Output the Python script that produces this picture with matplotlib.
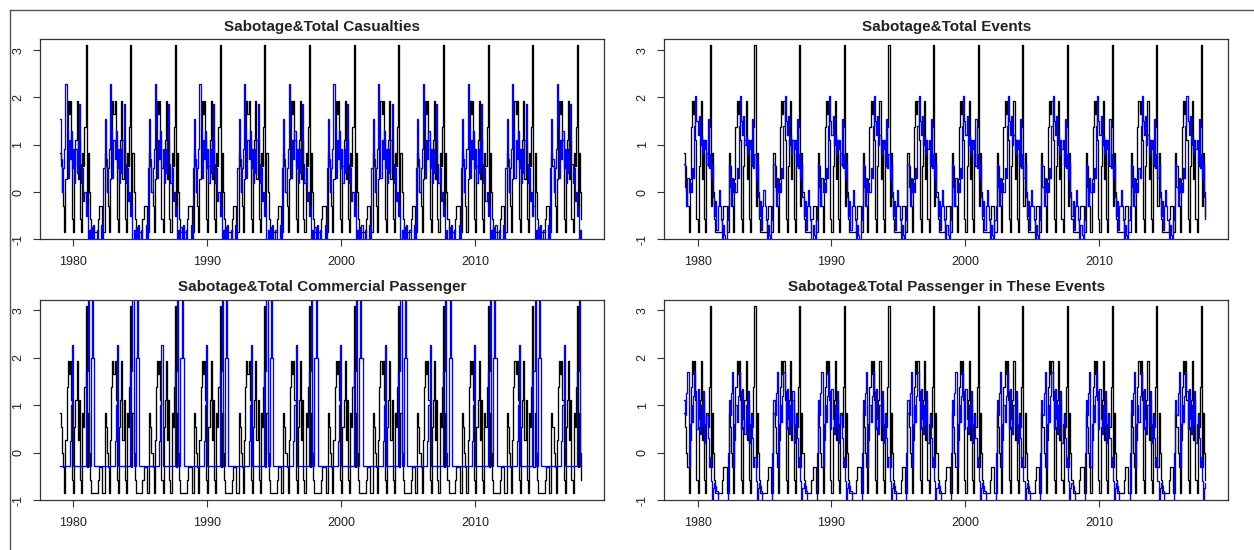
import numpy as np
import matplotlib
matplotlib.use("Agg")
import matplotlib.pyplot as plt
from matplotlib.lines import Line2D

plt.rcParams['font.family'] = ['Liberation Sans', 'DejaVu Sans']

# ---- data (monthly, repeating 40-month pattern) ----
start_year = 1979.0
n_months = 468

titles = ["Sabotage&Total Casualties", "Sabotage&Total Events",
          "Sabotage&Total Commercial Passenger", "Sabotage&Total Passenger in These Events"]

sabotage_cycle = [0.83, 0.55, 0.0, -0.3, -0.85, 0.27, 1.38, 1.93, 1.65, 1.93,
                  1.1, -0.58, -0.85, 0.55, 1.1, 1.93, 0.27, 1.1, -0.58, -0.85,
                  0.83, 0.55, 1.38, 3.1, -0.3, 0.83, 0.0, -0.58, -0.85, -0.85,
                  -0.85, -0.85, -0.85, -0.85, -0.58, -0.3, -0.3, -0.3, -0.85, -0.85]

casualties_cycle = [1.55, 0.7, 0.0, 0.5, 0.9, 2.28, 1.35, 0.3, 1.1, 0.7,
                    1.3, 0.5, 0.9, 0.2, 0.9, 0.4, 1.1, 1.87, 0.6, 0.2,
                    0.5, -0.2, 0.0, -0.5, -0.3, -1.2, -0.8, -1.2, -0.75, -1.2,
                    -0.7, -1.2, -1.0, -0.8, -1.2, -1.1, -1.2, -0.7, -1.2, 0.5]

events_cycle = [0.6, 0.1, -0.3, 0.3, 0.0, 0.2, 0.0, 0.5, 0.3, 1.4,
                2.03, 1.5, 1.2, 1.6, 1.0, 1.2, 0.8, 1.1, 0.9, 1.1,
                0.6, 1.55, 0.5, 0.8, 0.3, 0.6, -0.1, -0.5, -0.2, -0.8,
                -0.3, 0.05, -0.3, -0.6, -1.1, -0.7, -0.9, -1.2, -0.6, -0.3]

commercial_cycle = [-0.28, -0.28, -0.28, -0.28, -0.28, -0.28, -0.28, -0.28, -0.28, 0.25,
                    1.0, 2.28, -0.28, -0.28, -0.28, -0.28, -0.28, -0.28, -0.28, -0.28,
                    -0.28, -0.28, -0.28, 1.72, 1.72, 4.5, -0.28, -0.28, 2.0, 4.5,
                    2.0, -0.28, -0.28, -0.28, -0.28, -0.28, -0.28, -0.28, -0.28, -0.28]

passenger_cycle = [1.1, 0.8, 1.25, 1.69, -0.3, 0.6, 1.0, 0.65, 1.2, 1.69,
                   1.3, 0.5, 1.35, 0.7, 0.4, 1.0, 0.6, 1.3, 0.2, 0.6,
                   0.8, 0.3, -0.3, -0.1, -0.6, -1.2, -0.75, -0.65, -0.7, -0.8,
                   -1.2, -1.2, -1.2, -1.2, -1.2, -1.2, -1.2, -1.2, -1.2, 0.0]

blue_cycles = [casualties_cycle, events_cycle, commercial_cycle, passenger_cycle]

x_ticks = [1980, 1990, 2000, 2010]
y_ticks = [-1, 0, 1, 2, 3]

# ---- layout ----
W, H = 1254, 550
fig = plt.figure(figsize=(W / 100, H / 100), dpi=100)
fig.patch.set_facecolor("white")

boxes = [(40, 39.3, 604, 239.3), (664.3, 39.3, 1228, 239.3),
         (40, 299.5, 604, 500), (664.3, 299.5, 1228, 500)]

t = start_year + np.arange(n_months) / 12.0
reps = n_months // 40 + 1
black = np.tile(sabotage_cycle, reps)[:n_months]

for i, (l, tp, r, b) in enumerate(boxes):
    ax = fig.add_axes([l / W, 1 - b / H, (r - l) / W, (b - tp) / H])
    blue = np.tile(blue_cycles[i], reps)[:n_months]
    ax.step(t, black, where='post', color='black', lw=0.95)
    ax.step(t, blue, where='post', color='#0000FF', lw=0.95)
    ax.set_xlim(1977.52, 2019.6)
    ax.set_ylim(-1, 3.23)
    ax.set_xticks(x_ticks)
    ax.set_xticklabels([str(v) for v in x_ticks])
    ax.set_yticks(y_ticks)
    ax.set_yticklabels([str(v) for v in y_ticks], rotation=90, va='center')
    ax.tick_params(direction='out', length=4.8, width=0.8, labelsize=9,
                   color='#333333', labelcolor='#222222')
    ax.tick_params(axis='x', pad=7.5)
    ax.tick_params(axis='y', pad=6.5)
    for s in ax.spines.values():
        s.set_linewidth(0.9)
        s.set_color('#333333')
    fig.text(((l + r) / 2) / W, 1 - (tp - 12.5) / H, titles[i],
             ha='center', va='center', fontsize=11, fontweight='bold', color='#222222')

# screenshot frame lines
fig.add_artist(Line2D([10 / W, 1], [1 - 10 / H, 1 - 10 / H], color='#555555', lw=1))
fig.add_artist(Line2D([10 / W, 10 / W], [0, 1 - 10 / H], color='#555555', lw=1))

fig.savefig("out.png", dpi=100)
